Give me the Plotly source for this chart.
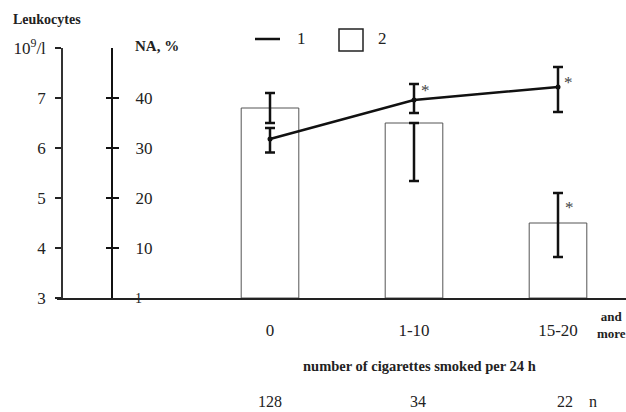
import plotly.graph_objects as go

W, H = 626, 412
ML, MR, MT, MB = 0, 0, 48, 114

# ---- data ----
categories = ["0", "1-10", "15-20"]
n_values = ["128", "34", "22"]
leuko = [6.18, 6.96, 7.22]          # series 1, Leukocytes 10^9/l
leuko_plus = [0.22, 0.32, 0.40]
leuko_minus = [0.27, 0.26, 0.50]
na_pct = [38, 35, 15]               # series 2, NA %
na_plus = [3, 0, 6]
na_minus = [3, 11.6, 6.8]
leuko_ticks = [3, 4, 5, 6, 7, 8]
leuko_ticktext = ["3", "4", "5", "6", "7", "10<sup>9</sup>/l"]
na_ticks = [10, 20, 30, 40]

FONT = "Liberation Serif"
TXT = "#222"

def px(x):
    return x / W

def py(y):
    return (H - MB - y) / (H - MT - MB)

fig = go.Figure()

fig.add_trace(go.Bar(
    x=categories, y=na_pct, yaxis="y", width=0.4,
    marker=dict(color="white", line=dict(color="#555", width=1)),
    error_y=dict(type="data", symmetric=False, array=na_plus, arrayminus=na_minus,
                 color="#111", thickness=2.5, width=5),
    showlegend=False,
))
fig.add_trace(go.Scatter(
    x=categories, y=leuko, yaxis="y2", mode="lines+markers",
    line=dict(color="#111", width=2.5), marker=dict(color="#111", size=5),
    error_y=dict(type="data", symmetric=False, array=leuko_plus, arrayminus=leuko_minus,
                 color="#111", thickness=2.5, width=5),
    showlegend=False,
))
fig.add_trace(go.Scatter(x=categories, y=na_pct, yaxis="y3", mode="none",
                         showlegend=False, hoverinfo="skip"))

x0 = 57
r0 = -(270 - x0) / 144
r1 = r0 + (W - x0) / 144

fig.update_layout(
    width=W, height=H, margin=dict(l=ML, r=MR, t=MT, b=MB),
    paper_bgcolor="white", plot_bgcolor="white",
    font=dict(family=FONT, color=TXT, size=17),
    xaxis=dict(type="category", domain=[px(x0), 1], range=[r0, r1],
               showline=True, linecolor="#222", linewidth=1.5, mirror=False,
               showgrid=False, zeroline=False, ticks="",
               tickfont=dict(family=FONT, size=17), ticklabelstandoff=16),
    # NA axis (main, bars)
    yaxis=dict(anchor="free", position=px(112), side="right",
               range=[0, 50], tickvals=na_ticks,
               ticks="outside", ticklen=6, tickwidth=2, tickcolor="#111",
               showline=True, linecolor="#111", linewidth=2,
               showgrid=False, zeroline=False, tickfont=dict(family=FONT, size=17),
               ticklabelstandoff=13),
    # Leukocytes axis (line)
    yaxis2=dict(anchor="free", position=px(62), overlaying="y", side="left",
                range=[3, 8], tickvals=leuko_ticks, ticktext=leuko_ticktext,
                ticks="outside", ticklen=6, tickwidth=1.5, tickcolor="#222",
                showline=True, linecolor="#333", linewidth=1.5,
                showgrid=False, zeroline=False, tickfont=dict(family=FONT, size=17),
                ticklabelstandoff=6),
    yaxis3=dict(anchor="free", position=px(112), overlaying="y", side="left",
                range=[0, 50], tickvals=na_ticks, showticklabels=False,
                ticks="outside", ticklen=6, tickwidth=2, tickcolor="#111",
                showline=False, showgrid=False, zeroline=False),
)

ann = []
def A(x, y, text, size=17, bold=False, xanchor="center", yanchor="middle", **kw):
    t = f"<b>{text}</b>" if bold else text
    ann.append(dict(xref="paper", yref="paper", x=px(x), y=py(y), text=t,
                    showarrow=False, xanchor=xanchor, yanchor=yanchor,
                    font=dict(family=FONT, size=size, color=TXT), **kw))

A(11, 20, "Leukocytes", size=14, bold=True, xanchor="left")
A(133, 46, "NA, %", size=15, bold=True, xanchor="left")
A(138, 298, "1", size=14)
A(595, 325, "and<br>more", size=13, bold=True, xanchor="left")
A(419, 366, "number of cigarettes smoked per 24 h", size=14.5, bold=True)
for cx, t in zip([270, 418, 565], n_values):
    A(cx, 401, t, size=16)
A(593, 401, "n", size=16)
# legend
A(301, 39, "1", size=17)
A(382, 39, "2", size=17)
fig.add_shape(type="line", xref="paper", yref="paper", x0=px(255), x1=px(280),
              y0=py(39), y1=py(39), line=dict(color="#111", width=2.5))
fig.add_shape(type="rect", xref="paper", yref="paper", x0=px(339), x1=px(363),
              y0=py(51), y1=py(29), line=dict(color="#222", width=1.5))

# asterisks
for (xc, yv, yref, xs) in [(categories[1], leuko[1] + 0.2, "y2", 11),
                           (categories[2], leuko[2] + 0.1, "y2", 10),
                           (categories[2], na_pct[2] + 3.2, "y", 11)]:
    ann.append(dict(xref="x", yref=yref, x=xc, y=yv, text="*", showarrow=False,
                    xshift=xs, font=dict(family=FONT, size=17, color="#444")))

fig.update_layout(annotations=ann)
fig.write_html("out.html", post_script="document.body.style.margin='0';",
               config={"displayModeBar": False})
